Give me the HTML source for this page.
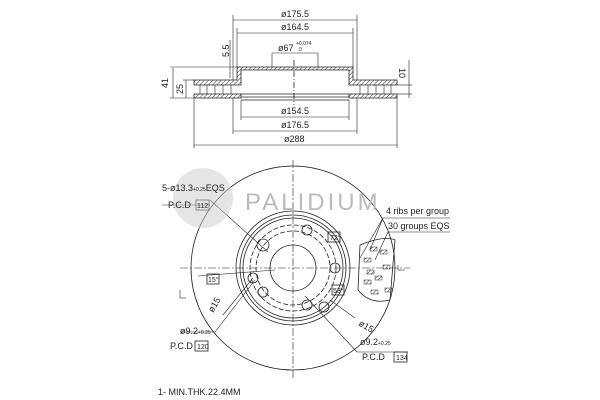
<!DOCTYPE html>
<html><head><style>body{margin:0;background:#fff}svg{display:block}text{font-family:"Liberation Sans",sans-serif;fill:#222}</style></head><body>
<svg width="600" height="400" viewBox="0 0 600 400" xmlns="http://www.w3.org/2000/svg">
<defs><pattern id="h" width="3" height="3" patternUnits="userSpaceOnUse" patternTransform="rotate(45)"><line x1="0" y1="0" x2="0" y2="3" stroke="#333" stroke-width="1"/></pattern></defs>
<g stroke="#222" stroke-width="0.8" fill="none">
<path d="M194 80 H237 V67 H353 V80 H397 V85 H349 V70 H241 V85 H194 Z" fill="url(#h)"/>
<path d="M194 94 H241 V98 H194 Z M349 94 H397 V98 H349 Z M241 97 H349" fill="url(#h)"/>
<line x1="241" y1="94" x2="349" y2="94"/><line x1="241" y1="100" x2="349" y2="100"/>
<g stroke-width="0.6"><line x1="200" y1="85" x2="200" y2="94"/><line x1="207" y1="85" x2="207" y2="94"/><line x1="215" y1="85" x2="215" y2="94"/><line x1="223" y1="85" x2="223" y2="94"/><line x1="231" y1="85" x2="231" y2="94"/>
<line x1="360" y1="85" x2="360" y2="94"/><line x1="368" y1="85" x2="368" y2="94"/><line x1="376" y1="85" x2="376" y2="94"/><line x1="384" y1="85" x2="384" y2="94"/><line x1="391" y1="85" x2="391" y2="94"/></g>
<line x1="294" y1="60" x2="294" y2="105" stroke-dasharray="6,2,1,2"/>
<g stroke-width="0.6">
<line x1="233" y1="20" x2="357" y2="20"/><line x1="233" y1="15" x2="233" y2="80"/><line x1="357" y1="15" x2="357" y2="80"/>
<line x1="237" y1="33" x2="353" y2="33"/><line x1="237" y1="28" x2="237" y2="67"/><line x1="353" y1="28" x2="353" y2="67"/>
<line x1="272" y1="53" x2="318" y2="53"/><line x1="272" y1="53" x2="272" y2="67"/><line x1="318" y1="53" x2="318" y2="67"/>
<line x1="241" y1="117" x2="349" y2="117"/><line x1="241" y1="100" x2="241" y2="120"/><line x1="349" y1="100" x2="349" y2="120"/>
<line x1="233" y1="131" x2="357" y2="131"/><line x1="233" y1="98" x2="233" y2="134"/><line x1="357" y1="98" x2="357" y2="134"/>
<line x1="194" y1="145" x2="397" y2="145"/><line x1="194" y1="98" x2="194" y2="148"/><line x1="397" y1="98" x2="397" y2="148"/>
<line x1="173" y1="68" x2="173" y2="98"/><line x1="170" y1="67" x2="237" y2="67"/><line x1="170" y1="98" x2="194" y2="98"/>
<line x1="186" y1="80" x2="186" y2="98"/><line x1="183" y1="80" x2="194" y2="80"/>
<line x1="230" y1="40" x2="230" y2="78"/>
<line x1="409" y1="60" x2="409" y2="98"/><line x1="397" y1="85" x2="412" y2="85"/><line x1="397" y1="94" x2="412" y2="94"/>
</g>
<circle cx="293" cy="268" r="102"/>
<circle cx="293" cy="268" r="57"/><circle cx="293" cy="268" r="53"/><circle cx="293" cy="268" r="50"/>
<circle cx="293" cy="268" r="43" stroke-dasharray="5,2"/><circle cx="293" cy="268" r="37" stroke-dasharray="5,2"/>
<circle cx="293" cy="268" r="23"/>
<line x1="180" y1="268" x2="410" y2="268" stroke-dasharray="8,2,2,2" stroke-width="0.6"/>
<line x1="293" y1="160" x2="293" y2="380" stroke-dasharray="8,2,2,2" stroke-width="0.6"/>
<circle cx="263" cy="245" r="6"/><circle cx="307" cy="230" r="5"/><circle cx="335" cy="268" r="5"/><circle cx="307" cy="305" r="5"/><circle cx="263" cy="292" r="5"/>
<circle cx="253" cy="278" r="5"/><circle cx="324" cy="307" r="5"/>
<path d="M360 245 Q385 235 395 240 L390 300 Q370 305 358 290 Z"/>
<g fill="url(#h)" stroke-width="0.5"><rect x="364" y="258" width="7" height="4"/><rect x="370" y="247" width="7" height="4"/><rect x="380" y="250" width="7" height="4"/><rect x="383" y="265" width="7" height="4"/><rect x="367" y="270" width="7" height="4"/><rect x="375" y="276" width="7" height="4"/><rect x="385" y="288" width="7" height="4"/><rect x="371" y="290" width="7" height="4"/><rect x="364" y="280" width="7" height="4"/></g>
<g stroke-width="0.6">
<line x1="162" y1="205" x2="210" y2="205"/><line x1="210" y1="200" x2="268" y2="252"/>
<line x1="383" y1="218" x2="450" y2="218"/><line x1="383" y1="218" x2="360" y2="258"/><line x1="383" y1="218" x2="370" y2="250"/>
<line x1="388" y1="232" x2="450" y2="232"/><line x1="388" y1="232" x2="375" y2="260"/>
<line x1="180" y1="332" x2="215" y2="332"/><line x1="215" y1="332" x2="255" y2="280"/>
<line x1="357" y1="352" x2="408" y2="352"/><line x1="357" y1="352" x2="305" y2="296"/>
<line x1="198" y1="276" x2="275" y2="270"/><line x1="223" y1="315" x2="253" y2="278"/>
<line x1="355" y1="318" x2="330" y2="300"/>
<line x1="398" y1="265" x2="398" y2="270"/><line x1="398" y1="270" x2="405" y2="270"/>
<line x1="180" y1="290" x2="180" y2="298"/><line x1="180" y1="298" x2="186" y2="298"/>
</g>
<rect x="207" y="274" width="12" height="10"/><rect x="328" y="232" width="12" height="10"/><rect x="332" y="285" width="12" height="10"/>
<rect x="196" y="200" width="13" height="10"/><rect x="195" y="341" width="13" height="10"/><rect x="394" y="352" width="13" height="10"/>
</g>
<circle cx="203" cy="198" r="30" fill="#ccc" opacity="0.5"/>
<text x="245" y="210" font-size="24" style="fill:#bbb;letter-spacing:3px">PALIDIUM</text>
<g font-size="9">
<text x="281" y="17">ø175.5</text><text x="281" y="30">ø164.5</text><text x="278" y="51">ø67</text><text x="296" y="45" font-size="5">+0.074</text><text x="299" y="51" font-size="5">0</text>
<text x="281" y="114">ø154.5</text><text x="281" y="128">ø176.5</text><text x="284" y="142">ø288</text>
<text x="168" y="88" transform="rotate(-90 168 88)">41</text><text x="183" y="94" transform="rotate(-90 183 94)">25</text>
<text x="229" y="57" transform="rotate(-90 229 57)">5.5</text><text x="407" y="76" transform="rotate(90 407 68)">10</text>
<text x="162" y="191">5-ø13.3<tspan font-size="5">+0.25</tspan>EQS</text><text x="168" y="208">P.C.D</text><text x="197" y="208" font-size="7">112</text>
<text x="386" y="214">4 ribs per group</text><text x="388" y="229">30 groups EQS</text>
<text x="330" y="240" font-size="7">72°</text><text x="208" y="282" font-size="7">15°</text><text x="333" y="293" font-size="7">53°</text>
<text x="180" y="334">ø9.2<tspan font-size="5">+0.25</tspan></text><text x="170" y="349">P.C.D</text><text x="197" y="349" font-size="7">120</text>
<text x="360" y="345">ø9.2<tspan font-size="5">+0.25</tspan></text><text x="362" y="360">P.C.D</text><text x="396" y="360" font-size="7">134</text>
<text x="213" y="313" transform="rotate(-60 213 313)">ø15</text><text x="358" y="325" transform="rotate(30 358 325)">ø15</text>
<text x="158" y="395">1- MIN.THK.22.4MM</text>
</g>
</svg>
</body></html>
